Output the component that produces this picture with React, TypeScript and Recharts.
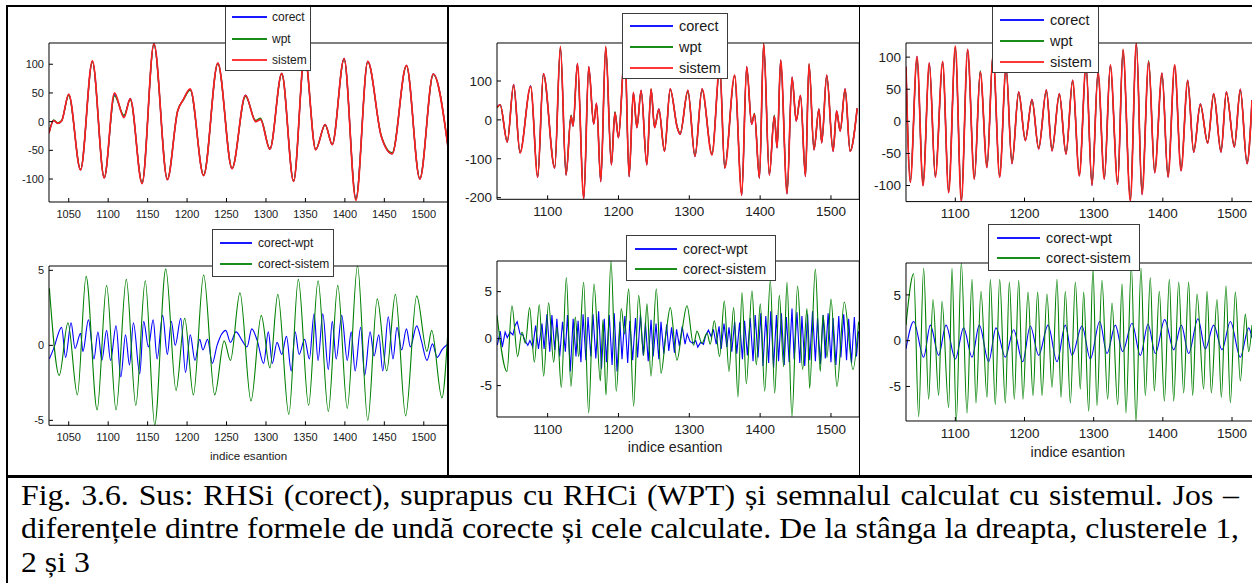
import React from 'react';
import { LineChart, Line, XAxis, YAxis, Legend, Label } from 'recharts';

type Pt = [number, number];

// ---------- cluster 1 (left column) ----------
const corect1: Pt[] = [
  [1025, -20], [1031, 2], [1036, -3], [1041, 1], [1050, 47], [1065, -84], [1080, 105], [1095, -98],
  [1108, 47], [1120, 9], [1128, 40], [1143, -107], [1158, 135], [1175, -101], [1188, 18], [1195, 38],
  [1204, 56], [1221, -94], [1239, 102], [1257, -82], [1274, 46], [1287, 0], [1293, 4], [1305, -48],
  [1320, 84], [1335, -104], [1349, 116], [1363, -49], [1375, -5], [1384, -40], [1399, 110], [1414, -134],
  [1429, 105], [1446, -25], [1460, -56], [1478, 98], [1495, -100], [1512, 83], [1531, -48],
];
const wpt1: Pt[] = [
  [1025, -18], [1031, 3], [1036, -2], [1041, 2], [1050, 46], [1065, -83], [1080, 104], [1095, -97],
  [1108, 45], [1120, 11], [1128, 38], [1143, -106], [1158, 134], [1175, -100], [1188, 19], [1195, 37],
  [1204, 55], [1221, -93], [1239, 101], [1257, -81], [1274, 44], [1287, 2], [1293, 6], [1305, -47],
  [1320, 83], [1335, -103], [1349, 117], [1363, -48], [1375, -6], [1384, -39], [1399, 109], [1414, -135],
  [1429, 104], [1446, -24], [1460, -54], [1478, 97], [1495, -99], [1512, 82], [1531, -47],
];
const sistem1: Pt[] = [
  [1025, -20], [1031, 2], [1036, -3], [1041, 1], [1050, 48], [1065, -84], [1080, 106], [1095, -98],
  [1108, 50], [1120, 7], [1128, 40], [1143, -108], [1158, 136], [1175, -101], [1188, 18], [1195, 38],
  [1204, 57], [1221, -94], [1239, 102], [1257, -82], [1274, 46], [1287, 0], [1293, 4], [1305, -48],
  [1320, 84], [1335, -104], [1349, 118], [1363, -49], [1375, -5], [1384, -40], [1399, 110], [1414, -137],
  [1429, 105], [1446, -25], [1460, -56], [1478, 98], [1495, -100], [1512, 83], [1531, -48],
];
const corectWpt1: Pt[] = [
  [1025.5, -0.9], [1031, -0.2], [1041, 1.2], [1046, -0.8], [1053, 1.5], [1058, -0.2], [1065, 0.8], [1068, -0.4],
  [1075, 1.7], [1082, -0.9], [1087, 0.9], [1092, -1.0], [1098, 1.0], [1103, -1.0], [1110, 1.3], [1116, -2.1],
  [1122, 0.7], [1127, -1.3], [1132, 1.5], [1140, -1.9], [1145, 1.6], [1151, -0.1], [1157, 1.7], [1162, -0.9],
  [1169, 2.0], [1175, -0.6], [1180, 1.6], [1185, 0.0], [1192, 1.8], [1198, -1.8], [1204, 0.7], [1210, -1.0],
  [1216, 0.4], [1220, -0.3], [1226, 0.4], [1232, -1.2], [1238, 0.0], [1249, 1.0], [1255, 0.2], [1262, 0.9],
  [1270, 0.3], [1276, -0.1], [1282, 1.1], [1289, 0.3], [1297, -1.2], [1303, 0.9], [1308, -1.2], [1314, 0.2],
  [1320, -0.6], [1326, 0.6], [1332, -1.7], [1337, 0.9], [1342, -0.6], [1349, 0.4], [1355, -0.9], [1361, 2.1],
  [1366, -1.0], [1372, 2.1], [1379, -1.6], [1384, 1.6], [1389, -0.9], [1396, 2.0], [1403, -1.0], [1408, 0.9],
  [1413, -1.7], [1420, 1.2], [1425, -2.0], [1432, 0.9], [1437, -0.7], [1443, 0.7], [1448, -1.7], [1455, 1.9],
  [1461, -0.9], [1466, 1.2], [1472, -0.3], [1478, 1.1], [1483, -0.1], [1491, 1.3], [1497, 0.3], [1504, -1.0],
  [1511, 0.1], [1517, -0.8], [1523, -0.3], [1531, 0.1],
];
const corectSistem1: Pt[] = [
  [1025.5, 3.8], [1038, -2.0], [1049, 1.5], [1061, -3.3], [1072, 4.6], [1086, -4.3], [1098, 4.0], [1110, -4.3],
  [1123, 4.4], [1135, -4.0], [1147, 4.3], [1159, -5.3], [1173, 5.1], [1186, -3.0], [1197, 1.8], [1208, -3.3],
  [1221, 4.7], [1235, -3.3], [1247, 0.3], [1255, -1.0], [1267, 3.5], [1281, -3.7], [1294, 2.0], [1305, -1.5],
  [1315, 3.4], [1329, -4.6], [1341, 4.4], [1354, -4.0], [1366, 4.3], [1379, -4.4], [1391, 4.0], [1403, -4.2],
  [1416, 5.3], [1429, -5.0], [1441, 3.1], [1453, -1.7], [1464, 3.4], [1477, -4.7], [1491, 3.3], [1504, -0.4],
  [1510, 1.0], [1523, -3.5], [1531, 1.4],
];

// ---------- cluster 2 (middle column) ----------
const corect2: Pt[] = [
  [1028.5, 32], [1033, 39], [1043, -57], [1052, 91], [1061, -85], [1076, 88], [1086, -148], [1094, 119],
  [1110, -124], [1118, 185], [1126, -142], [1133, 10], [1136, -16], [1142, 145], [1151, -203], [1158, 137],
  [1165, -11], [1169, 43], [1175, -159], [1182, 186], [1190, -116], [1195, 19], [1200, -46], [1209, 180],
  [1215, -146], [1221, 71], [1226, -20], [1232, 76], [1240, -116], [1246, 78], [1251, -20], [1257, 28],
  [1265, -81], [1273, 80], [1283, -20], [1287, -37], [1298, 76], [1308, -94], [1318, 80], [1332, -90],
  [1343, 135], [1350, -124], [1364, 115], [1374, -194], [1381, 137], [1388, -11], [1392, 15], [1399, -150],
  [1405, 194], [1413, -142], [1420, 10], [1424, -72], [1429, 154], [1438, -190], [1445, 110], [1451, -3],
  [1457, 63], [1464, -146], [1469, 142], [1476, -77], [1483, 28], [1487, -59], [1494, 115], [1503, -81],
  [1508, 23], [1513, -29], [1520, 80], [1527, -81], [1537, 30],
];
const wpt2: Pt[] = [
  [1028.5, 31], [1033, 38], [1043, -55], [1052, 88], [1061, -84], [1076, 86], [1086, -146], [1094, 116],
  [1110, -122], [1118, 188], [1126, -140], [1133, 12], [1136, -14], [1142, 143], [1151, -200], [1158, 134],
  [1165, -9], [1169, 41], [1175, -157], [1182, 188], [1190, -114], [1195, 21], [1200, -44], [1209, 178],
  [1215, -144], [1221, 68], [1226, -18], [1232, 74], [1240, -114], [1246, 79], [1251, -18], [1257, 26],
  [1265, -79], [1273, 78], [1283, -18], [1287, -35], [1298, 73], [1308, -92], [1318, 78], [1332, -88],
  [1343, 136], [1350, -122], [1364, 113], [1374, -192], [1381, 134], [1388, -9], [1392, 17], [1399, -148],
  [1405, 196], [1413, -140], [1420, 12], [1424, -70], [1429, 152], [1438, -188], [1445, 107], [1451, -1],
  [1457, 61], [1464, -144], [1469, 144], [1476, -75], [1483, 26], [1487, -57], [1494, 113], [1503, -79],
  [1508, 21], [1513, -27], [1520, 77], [1527, -79], [1537, 29],
];
const sistem2: Pt[] = [
  [1028.5, 32], [1033, 39], [1043, -57], [1052, 91], [1061, -85], [1076, 86], [1086, -148], [1094, 119],
  [1110, -124], [1118, 189], [1126, -142], [1133, 10], [1136, -16], [1142, 145], [1151, -203], [1158, 137],
  [1165, -11], [1169, 43], [1175, -159], [1182, 189], [1190, -116], [1195, 19], [1200, -46], [1209, 180],
  [1215, -146], [1221, 71], [1226, -20], [1232, 76], [1240, -116], [1246, 80], [1251, -20], [1257, 28],
  [1265, -81], [1273, 80], [1283, -20], [1287, -37], [1298, 76], [1308, -94], [1318, 80], [1332, -90],
  [1343, 137], [1350, -124], [1364, 115], [1374, -194], [1381, 137], [1388, -11], [1392, 15], [1399, -150],
  [1405, 197], [1413, -142], [1420, 10], [1424, -72], [1429, 154], [1438, -190], [1445, 110], [1451, -3],
  [1457, 63], [1464, -146], [1469, 145], [1476, -77], [1483, 28], [1487, -59], [1494, 115], [1503, -81],
  [1508, 23], [1513, -29], [1520, 80], [1527, -81], [1537, 30],
];
const corectWpt2: Pt[] = [
  [1029, -0.7], [1033, 0.8], [1036, -0.9], [1040, 0.7], [1043, 0.1], [1047, 0.7], [1051, 0.4], [1054, 1.4],
  [1057, 1.8], [1061, 0.5], [1065, 0.4], [1068, -0.2], [1072, -0.7], [1075, -0.2], [1079, -0.9], [1083, 1.4],
  [1087, -1.1], [1092, 1.6], [1095, -1.1], [1099, 2.6], [1103, -1.4], [1106, 2.5], [1110, -1.2], [1113, 2.1],
  [1117, -1.9], [1121, 1.8], [1125, -1.4], [1128, 2.5], [1132, -3.5], [1136, 2.1], [1140, -1.9], [1143, 1.9],
  [1147, -2.5], [1150, 2.6], [1154, -2.3], [1157, 2.3], [1161, -1.9], [1164, 2.6], [1168, -2.1], [1172, 2.9],
  [1176, -3.2], [1180, 2.1], [1183, -2.5], [1187, 2.5], [1191, -2.8], [1194, 2.7], [1198, -3.5], [1202, 1.8],
  [1205, -2.2], [1209, 2.4], [1213, -2.6], [1216, 1.9], [1220, -2.3], [1224, 2.2], [1227, -2.0], [1231, 2.6],
  [1235, -1.8], [1238, 1.7], [1242, -2.4], [1246, 2.0], [1249, -1.9], [1253, 1.6], [1257, -2.2], [1260, 1.8],
  [1264, -1.6], [1268, 1.5], [1271, -1.3], [1275, 1.2], [1279, -1.5], [1282, 1.0], [1286, -0.8], [1290, 1.3],
  [1294, -0.6], [1297, 0.5], [1301, -0.3], [1305, -0.5], [1309, -0.2], [1312, -0.9], [1316, -0.4], [1320, -0.6],
  [1323, 0.3], [1327, 0.9], [1331, 0.2], [1334, 1.0], [1338, -0.6], [1342, 1.3], [1345, -1.1], [1349, 1.6],
  [1353, -0.9], [1356, 1.2], [1360, -1.4], [1364, 1.8], [1367, -1.6], [1371, 1.7], [1375, -2.2], [1378, 1.9],
  [1382, -1.8], [1386, 2.2], [1390, -2.4], [1393, 2.5], [1397, -2.0], [1401, 2.7], [1404, -2.9], [1408, 2.4],
  [1412, -2.6], [1415, 2.9], [1419, -3.1], [1423, 2.5], [1426, -2.4], [1430, 2.7], [1434, -2.8], [1437, 2.3],
  [1441, -2.5], [1445, 3.2], [1448, -2.2], [1452, 2.8], [1456, -2.6], [1459, 2.4], [1463, -2.9], [1467, 2.6],
  [1470, -2.3], [1474, 2.9], [1478, -2.4], [1481, 2.2], [1485, -2.7], [1489, 2.5], [1492, -2.1], [1496, 2.7],
  [1500, -2.5], [1503, 2.2], [1507, -2.8], [1511, 2.4], [1514, -2.0], [1518, 2.6], [1522, -2.3], [1525, 2.1],
  [1529, -2.6], [1533, 2.3], [1536, -1.9], [1539, 0.8],
];
const corectSistem2: Pt[] = [
  [1028.5, 2.5], [1042.6, -3.5], [1049.6, 3.5], [1057.6, -1.9], [1063.8, 0.7], [1068.5, -0.5], [1074.6, 3.3],
  [1081.2, -2.5], [1088.2, 3.6], [1094.4, -4.0], [1101.4, 3.8], [1108.5, -2.5], [1113.2, 1.2], [1119.3, -5.2],
  [1126.4, 6.5], [1132.9, -5.1], [1139, 2.3], [1143.8, -1.9], [1150.8, 6.0], [1157.9, -7.9], [1165.4, 5.8],
  [1174.4, -4.5], [1178.1, 2.0], [1182.4, -6.0], [1189.4, 8.3], [1196.9, -5.6], [1204, 3.2], [1208.7, 0.5],
  [1214.4, 5.3], [1221.4, -7.2], [1228.5, 4.6], [1235.5, -1.8], [1240.2, 3.7], [1245.9, -4.0], [1253.4, 5.3],
  [1260, -3.7], [1267.1, 0.5], [1273.2, 3.3], [1282.6, -2.3], [1289.6, 0.8], [1296.7, 3.5], [1306.1, -0.7],
  [1310.8, 0.8], [1317.9, -0.5], [1325, 0.6], [1329.6, -0.6], [1335.3, 1.9], [1342.8, -1.9], [1349.4, 4.0],
  [1356, -3.5], [1362.6, 3.3], [1368.7, -6.2], [1374.4, 4.9], [1380.5, -4.8], [1388.5, 5.1], [1394.6, -2.8],
  [1400.2, 3.7], [1406.4, -5.6], [1414.4, 6.2], [1420.5, -5.8], [1427.1, 4.6], [1433.2, -3.0], [1437.9, 6.0],
  [1444.9, -8.3], [1452.9, 5.6], [1460, -3.3], [1466.1, 3.2], [1469.9, -5.3], [1477.9, 7.4], [1484.9, -3.5],
  [1488.7, 2.5], [1494.4, -2.0], [1500, 4.2], [1508.5, -5.1], [1518.8, 3.9], [1531.1, -3.3], [1539, 1.8],
];

// ---------- cluster 3 (right column) ----------
const corect3: Pt[] = [
  [1028.7, 85], [1034.9, -95], [1044.6, 101], [1053.3, -100], [1062.4, 91], [1071.1, -87], [1081.7, 93],
  [1090.4, -111], [1100, 115], [1108.7, -125], [1117.8, 112], [1127.5, -90], [1136.1, 77], [1145.8, -72],
  [1154.5, 104], [1164.1, -87], [1173.3, 85], [1181.9, -66], [1191.6, 46], [1201.2, -30], [1210.8, 34],
  [1220.5, -43], [1231.6, 49], [1239.8, -46], [1250.4, 43], [1260, -51], [1269.6, 64], [1279.3, -85],
  [1288.9, 88], [1297.6, -100], [1306.3, 77], [1315.4, -90], [1324.1, 88], [1334.7, -98], [1342.4, 110],
  [1353, -124], [1361.7, 122], [1369.9, -114], [1379.5, 93], [1388.2, -80], [1398.8, 75], [1407.5, -87],
  [1417.1, 86], [1426.3, -77], [1435.9, 64], [1444.6, -48], [1454.2, 27], [1464.8, -34], [1473.5, 43],
  [1484.1, -48], [1491.8, 46], [1503.4, -40], [1512, 50], [1521.7, -66], [1528.9, 33],
];
const wpt3: Pt[] = [
  [1028.7, 83], [1034.9, -93], [1044.6, 98], [1053.3, -98], [1062.4, 89], [1071.1, -85], [1081.7, 91],
  [1090.4, -109], [1100, 116], [1108.7, -123], [1117.8, 110], [1127.5, -88], [1136.1, 79], [1145.8, -70],
  [1154.5, 105], [1164.1, -85], [1173.3, 83], [1181.9, -64], [1191.6, 44], [1201.2, -28], [1210.8, 32],
  [1220.5, -41], [1231.6, 47], [1239.8, -44], [1250.4, 41], [1260, -49], [1269.6, 62], [1279.3, -83],
  [1288.9, 85], [1297.6, -98], [1306.3, 75], [1315.4, -88], [1324.1, 86], [1334.7, -96], [1342.4, 111],
  [1353, -122], [1361.7, 121], [1369.9, -112], [1379.5, 95], [1388.2, -78], [1398.8, 73], [1407.5, -85],
  [1417.1, 87], [1426.3, -75], [1435.9, 62], [1444.6, -46], [1454.2, 25], [1464.8, -32], [1473.5, 41],
  [1484.1, -46], [1491.8, 44], [1503.4, -38], [1512, 48], [1521.7, -64], [1528.9, 31],
];
const sistem3: Pt[] = [
  [1028.7, 85], [1034.9, -95], [1044.6, 101], [1053.3, -100], [1062.4, 91], [1071.1, -87], [1081.7, 93],
  [1090.4, -111], [1100, 117], [1108.7, -125], [1117.8, 112], [1127.5, -90], [1136.1, 77], [1145.8, -72],
  [1154.5, 106], [1164.1, -87], [1173.3, 85], [1181.9, -66], [1191.6, 46], [1201.2, -30], [1210.8, 34],
  [1220.5, -43], [1231.6, 49], [1239.8, -46], [1250.4, 43], [1260, -51], [1269.6, 64], [1279.3, -85],
  [1288.9, 88], [1297.6, -100], [1306.3, 77], [1315.4, -90], [1324.1, 88], [1334.7, -98], [1342.4, 112],
  [1353, -124], [1361.7, 122], [1369.9, -114], [1379.5, 93], [1388.2, -80], [1398.8, 75], [1407.5, -87],
  [1417.1, 88], [1426.3, -77], [1435.9, 64], [1444.6, -48], [1454.2, 27], [1464.8, -34], [1473.5, 43],
  [1484.1, -48], [1491.8, 46], [1503.4, -40], [1512, 50], [1521.7, -66], [1528.9, 33],
];
const corectWpt3: Pt[] = [
  [1028.7, -0.9], [1039.8, 2.1], [1054.2, -1.8], [1063.9, 1.7], [1075.9, -1.6], [1086.5, 1.7], [1100, -2.0],
  [1112, 1.4], [1124.1, -1.8], [1134.7, 1.7], [1148.2, -2.3], [1158.8, 1.4], [1172.3, -1.8], [1184.3, 1.2],
  [1197.3, -2.3], [1208.4, 1.6], [1220.5, -1.6], [1234, 1.7], [1247, -2.3], [1259, 1.7], [1268.7, -1.6],
  [1283.1, 1.6], [1295.2, -2.0], [1308.7, 2.1], [1319.3, -1.4], [1331.3, 1.7], [1341.9, -1.2], [1355.4, 1.9],
  [1367.5, -1.6], [1378.6, 1.8], [1389.2, -1.4], [1402.7, 2.3], [1415.7, -1.0], [1426.7, 1.7], [1437.3, -1.4],
  [1450.8, 2.4], [1461.4, -0.9], [1473.5, 1.7], [1485.5, -1.0], [1497.6, 2.1], [1512, -1.8], [1524.1, 1.4],
  [1528.9, 0.3],
];
const corectSistem3: Pt[] = [
  [1028.7, 1.7], [1039.8, 7.3], [1047, -8.3], [1054.2, 7.9], [1061.4, -6.4], [1067.7, 4.5], [1075.9, -6.0],
  [1080.7, 4.3], [1090.4, -7.3], [1095.2, 7.9], [1101.4, -8.8], [1108.7, 8.5], [1116.9, -7.9], [1124.1, 6.7],
  [1129.9, -6.8], [1137.1, 5.4], [1145.8, -6.2], [1150.6, 6.7], [1157.8, -7.0], [1164.1, 6.7], [1172.3, -6.8],
  [1178.1, 6.4], [1185.3, -6.4], [1191.6, 6.6], [1197.8, -6.4], [1205.1, 5.3], [1212.3, -6.0], [1219, 5.3],
  [1225.3, -6.0], [1232.5, 5.1], [1239.8, -5.1], [1247, 6.7], [1252.8, -6.2], [1259, 5.4], [1266.3, -6.8],
  [1273.5, 6.4], [1280.7, -5.3], [1285.5, 5.3], [1292.8, -7.7], [1299, 7.9], [1304.8, -7.1], [1312, 6.6],
  [1320.2, -6.4], [1326.5, 4.1], [1334.7, -7.0], [1341, 6.2], [1346.7, -7.9], [1354.5, 8.2], [1361.2, -8.9],
  [1368.4, 7.9], [1374.7, -6.0], [1381.9, 6.9], [1387.7, -5.5], [1394.9, 5.4], [1402.2, -6.6], [1409.4, 6.7],
  [1415.7, -6.6], [1422.9, 6.4], [1430.1, -5.7], [1437.3, 6.4], [1443.1, -6.0], [1449.4, 5.1], [1459, -5.3],
  [1463.9, 5.4], [1470.1, -5.7], [1478.3, 4.5], [1484.6, -6.2], [1491.3, 6.0], [1497.6, -6.8], [1504.8, 5.3],
  [1512, -4.4], [1519.3, 2.9], [1524.1, -1.2], [1528.9, 1.7],
];

// ---------- ticks ----------
const xTicks1 = [1050, 1100, 1150, 1200, 1250, 1300, 1350, 1400, 1450, 1500];
const xTicks23 = [1100, 1200, 1300, 1400, 1500];
const yTicksTop1 = [-100, -50, 0, 50, 100];
const yTicksTop2 = [-200, -100, 0, 100];
const yTicksTop3 = [-100, -50, 0, 50, 100];
const yTicksDiff = [-5, 0, 5];

const captionLines = [
  'Fig. 3.6. Sus: RHSi (corect), suprapus cu RHCi (WPT) și semnalul calculat cu sistemul. Jos –',
  'diferențele dintre formele de undă corecte și cele calculate. De la stânga la dreapta, clusterele 1,',
  '2 și 3',
];

const BLUE = '#0000ff';
const GREEN = '#008000';
const RED = '#ff2020';
const SANS = "'Liberation Sans', Arial, sans-serif";

interface Series {
  name: string;
  color: string;
  pts: Pt[];
  width: number;
  curve: 'monotone' | 'linear';
}

interface LegendSpec {
  box: [number, number, number, number]; // left, top, right, bottom (page px)
  rows: number[];
  lineX: [number, number];
  textX: number;
  fontSize: number;
}

interface PanelSpec {
  left: number; // plot area, page px
  top: number;
  width: number;
  height: number;
  xDomain: [number, number];
  yDomain: [number, number];
  xTicks: number[];
  yTicks: number[];
  fontSize: number;
  xTickMargin: number;
  series: Series[];
  legend: LegendSpec;
  xLabel?: { baseline: number; dx: number; fontSize: number };
}

const AX_W = 45;
const TOP_PAD = 50;
const BOT_PAD = 45;

const topSeries = (c: Pt[], w: Pt[], s: Pt[]): Series[] => [
  { name: 'corect', color: BLUE, pts: c, width: 1.3, curve: 'monotone' },
  { name: 'wpt', color: GREEN, pts: w, width: 1.3, curve: 'monotone' },
  { name: 'sistem', color: RED, pts: s, width: 1.7, curve: 'monotone' },
];

const panels: { cell: number; spec: PanelSpec }[] = [
  {
    cell: 0,
    spec: {
      left: 48.6, top: 43, width: 403.2, height: 159,
      xDomain: [1025, 1536], yDomain: [-140, 137],
      xTicks: xTicks1, yTicks: yTicksTop1, fontSize: 11, xTickMargin: 12,
      series: topSeries(corect1, wpt1, sistem1),
      legend: { box: [225, -2, 311, 71], rows: [17, 38.5, 59.5], lineX: [232, 267], textX: 272, fontSize: 12 },
    },
  },
  {
    cell: 0,
    spec: {
      left: 48.6, top: 265.7, width: 403.2, height: 159.3,
      xDomain: [1025, 1536], yDomain: [-5.33, 5.29],
      xTicks: xTicks1, yTicks: yTicksDiff, fontSize: 11, xTickMargin: 12,
      series: [
        { name: 'corect-wpt', color: BLUE, pts: corectWpt1, width: 1.1, curve: 'monotone' },
        { name: 'corect-sistem', color: GREEN, pts: corectSistem1, width: 1.1, curve: 'monotone' },
      ],
      legend: { box: [212, 229, 334, 277], rows: [243, 264], lineX: [220, 252], textX: 258, fontSize: 12 },
      xLabel: { baseline: 460, dx: -2, fontSize: 11.6 },
    },
  },
  {
    cell: 1,
    spec: {
      left: 496.7, top: 42.7, width: 362.3, height: 156.3,
      xDomain: [1028.5, 1540], yDomain: [-204.3, 197.8],
      xTicks: xTicks23, yTicks: yTicksTop2, fontSize: 13.5, xTickMargin: 11,
      series: topSeries(corect2, wpt2, sistem2),
      legend: { box: [622, 12.7, 728, 79.3], rows: [26, 47, 68], lineX: [630, 673], textX: 679, fontSize: 14.5 },
    },
  },
  {
    cell: 1,
    spec: {
      left: 496.7, top: 260.7, width: 362.3, height: 156,
      xDomain: [1028.5, 1540], yDomain: [-8.34, 8.26],
      xTicks: xTicks23, yTicks: yTicksDiff, fontSize: 13.5, xTickMargin: 11,
      series: [
        { name: 'corect-wpt', color: BLUE, pts: corectWpt2, width: 1.1, curve: 'linear' },
        { name: 'corect-sistem', color: GREEN, pts: corectSistem2, width: 1.1, curve: 'monotone' },
      ],
      legend: { box: [626, 235, 776, 281], rows: [249, 269.3], lineX: [635, 677], textX: 683, fontSize: 14 },
      xLabel: { baseline: 452, dx: -3, fontSize: 14.2 },
    },
  },
  {
    cell: 2,
    spec: {
      left: 905.7, top: 42.7, width: 353.7, height: 158.6,
      xDomain: [1028.7, 1540], yDomain: [-125, 122],
      xTicks: xTicks23, yTicks: yTicksTop3, fontSize: 13.5, xTickMargin: 11,
      series: topSeries(corect3, wpt3, sistem3),
      legend: { box: [992, -2, 1099, 73.3], rows: [20, 41, 62.3], lineX: [1000, 1044], textX: 1050, fontSize: 14.5 },
    },
  },
  {
    cell: 2,
    spec: {
      left: 905.7, top: 263, width: 353.7, height: 158,
      xDomain: [1028.7, 1540], yDomain: [-8.77, 8.48],
      xTicks: xTicks23, yTicks: yTicksDiff, fontSize: 13.5, xTickMargin: 11.5,
      series: [
        { name: 'corect-wpt', color: BLUE, pts: corectWpt3, width: 1.1, curve: 'monotone' },
        { name: 'corect-sistem', color: GREEN, pts: corectSistem3, width: 1.1, curve: 'monotone' },
      ],
      legend: { box: [988, 224, 1140, 270.7], rows: [238.3, 258.3], lineX: [997, 1040], textX: 1046, fontSize: 14.3 },
      xLabel: { baseline: 457.5, dx: -5, fontSize: 14.2 },
    },
  },
];

// table cells that clip the pictures (page px)
const cells = [
  { left: 8, top: 7, width: 439, height: 468 },
  { left: 448.5, top: 7, width: 410, height: 468 },
  { left: 860, top: 7, width: 392, height: 468 },
];

function LegendBox({ payload, spec, order }: { payload: any[]; spec: LegendSpec; order: string[] }) {
  const [bl, bt, br, bb] = spec.box;
  // keep the plotting order (the legend sorts by name otherwise)
  const items = [...payload].sort((a, b) => order.indexOf(a.value) - order.indexOf(b.value));
  return (
    <div
      style={{
        position: 'relative',
        width: br - bl,
        height: bb - bt,
        border: '1px solid #3c3c3c',
        background: '#fff',
        boxSizing: 'border-box',
      }}
    >
      {items.map((p, i) => (
        <React.Fragment key={p.value}>
          <div
            style={{
              position: 'absolute',
              left: Math.round(spec.lineX[0] - bl - 1),
              top: Math.round(spec.rows[i] - bt - 2),
              width: Math.round(spec.lineX[1] - spec.lineX[0]),
              height: 2,
              background: p.color,
              opacity: 0.9,
            }}
          />
          <span
            style={{
              position: 'absolute',
              left: spec.textX - bl - 1,
              top: spec.rows[i] - bt - 1,
              transform: 'translateY(-50%)',
              fontFamily: SANS,
              fontSize: spec.fontSize,
              lineHeight: 1,
              whiteSpace: 'nowrap',
              color: '#1a1a1a',
            }}
          >
            {p.value}
          </span>
        </React.Fragment>
      ))}
    </div>
  );
}

function Panel({ spec, cellLeft, cellTop }: { spec: PanelSpec; cellLeft: number; cellTop: number }) {
  const chartLeft = spec.left - AX_W;
  const chartTop = spec.top - TOP_PAD;
  const w = AX_W + spec.width + 1;
  const h = TOP_PAD + spec.height + BOT_PAD;
  const lg = spec.legend;
  const order = spec.series.map((s) => s.name);
  const tickStyle = { fontSize: spec.fontSize, fill: '#202020', fontFamily: SANS };

  return (
    <div style={{ position: 'absolute', left: chartLeft - cellLeft, top: chartTop - cellTop }}>
      <LineChart width={w} height={h} margin={{ top: TOP_PAD - 1, right: 0, bottom: 0, left: 0 }}>
        <XAxis
          xAxisId="b"
          type="number"
          dataKey="x"
          domain={spec.xDomain}
          ticks={spec.xTicks}
          interval={0}
          allowDataOverflow
          height={BOT_PAD}
          tickSize={-4}
          tickMargin={spec.xTickMargin}
          tick={tickStyle}
          stroke="#000"
        >
          {spec.xLabel && (
            <Label
              value="indice esantion"
              position="insideBottom"
              offset={spec.top + spec.height + BOT_PAD - spec.xLabel.baseline}
              dx={spec.xLabel.dx}
              style={{ fontSize: spec.xLabel.fontSize, fill: '#202020', fontFamily: SANS }}
            />
          )}
        </XAxis>
        <XAxis
          xAxisId="t"
          orientation="top"
          type="number"
          dataKey="x"
          domain={spec.xDomain}
          ticks={spec.xTicks}
          interval={0}
          allowDataOverflow
          height={1}
          tickSize={-4}
          tick={false}
          stroke="#000"
        />
        <YAxis
          yAxisId="l"
          type="number"
          domain={spec.yDomain}
          ticks={spec.yTicks}
          interval={0}
          allowDataOverflow
          width={AX_W}
          tickSize={-4}
          tickMargin={9}
          tick={tickStyle}
          stroke="#000"
        />
        <YAxis
          yAxisId="r"
          orientation="right"
          type="number"
          domain={spec.yDomain}
          ticks={spec.yTicks}
          interval={0}
          allowDataOverflow
          width={1}
          tickSize={-4}
          tick={false}
          stroke="#000"
        />
        {spec.series.map((s) => (
          <Line
            key={s.name}
            xAxisId="b"
            yAxisId="l"
            data={s.pts.map(([x, y]) => ({ x, y }))}
            dataKey="y"
            name={s.name}
            type={s.curve}
            stroke={s.color}
            strokeWidth={s.width}
            dot={false}
            activeDot={false}
            isAnimationActive={false}
          />
        ))}
        <Legend
          layout="vertical"
          align="center"
          verticalAlign="middle"
          wrapperStyle={{
            left: lg.box[0] - chartLeft,
            top: lg.box[1] - chartTop,
            width: lg.box[2] - lg.box[0],
            height: lg.box[3] - lg.box[1],
          }}
          content={(props: any) => <LegendBox payload={props.payload || []} spec={lg} order={order} />}
        />
      </LineChart>
    </div>
  );
}

// the scanned caption is stretched a little horizontally
const CAPTION_STRETCH = 1.095;

export default function App() {
  const rule = (left: number, top: number, width: number, height: number) => (
    <div style={{ position: 'absolute', left, top, width, height, background: '#000' }} />
  );
  return (
    <div
      style={{
        position: 'fixed',
        left: 0,
        top: 0,
        width: 1252,
        height: 583,
        overflow: 'hidden',
        background: '#fff',
      }}
    >
      {cells.map((c, ci) => (
        <div
          key={ci}
          style={{ position: 'absolute', left: c.left, top: c.top, width: c.width, height: c.height, overflow: 'hidden' }}
        >
          {panels
            .filter((p) => p.cell === ci)
            .map((p, i) => (
              <Panel key={i} spec={p.spec} cellLeft={c.left} cellTop={c.top} />
            ))}
        </div>
      ))}

      {/* table rules */}
      {rule(6, 5, 1246, 2)}
      {rule(6, 5, 2, 578)}
      {rule(6, 475, 1246, 2.5)}
      {rule(447, 5, 1.5, 471)}
      {rule(858.5, 5, 1.5, 471)}

      {captionLines.map((t, i) => (
        <div
          key={i}
          style={{
            position: 'absolute',
            left: 21,
            top: 478.7 + i * 33.7,
            width: 1218 / CAPTION_STRETCH,
            transform: `scaleX(${CAPTION_STRETCH})`,
            transformOrigin: '0 0',
            fontFamily: "'Liberation Serif', 'Times New Roman', serif",
            fontSize: 29,
            lineHeight: '33.7px',
            color: '#000',
            whiteSpace: 'nowrap',
            textAlign: 'justify',
            textAlignLast: i < 2 ? 'justify' : 'left',
          }}
        >
          {t}
        </div>
      ))}
    </div>
  );
}
